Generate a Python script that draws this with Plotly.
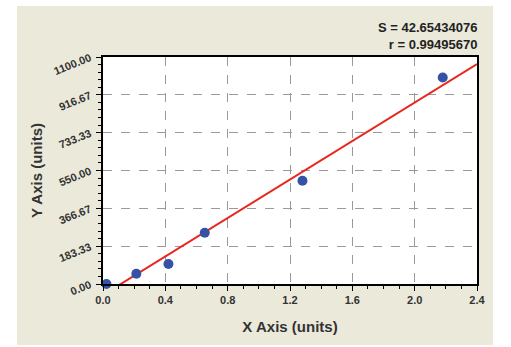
import numpy as np
import plotly.graph_objects as go

# Data
x_vals = [0.022, 0.214, 0.42, 0.653, 1.28, 2.18]
y_vals = [0, 50, 97, 248, 500, 1001]
fit_slope = 466.0
fit_intercept = -53.0
x_ticks = [0.0, 0.4, 0.8, 1.2, 1.6, 2.0, 2.4]
x_ticktext = ["0.0", "0.4", "0.8", "1.2", "1.6", "2.0", "2.4"]
y_ticks = [0, 183.33, 366.67, 550.0, 733.33, 916.67, 1100.0]
y_ticktext = ["0.00", "183.33", "366.67", "550.00", "733.33", "916.67", "1100.00"]
stats_text = "S = 42.65434076<br>r = 0.99495670"

line_x = np.linspace(0, 2.4, 50)
line_y = fit_slope * line_x + fit_intercept

W, H = 511, 347
L, R, T, B = 103, 34, 57, 63
pw, ph = W - L - R, H - T - B

def px_to_paper_x(px):
    return (px - L) / pw

def px_to_paper_y(py):
    return (H - B - py) / ph

fig = go.Figure()
fig.add_trace(go.Scatter(x=line_x, y=line_y, mode="lines",
                         line=dict(color="#e8281e", width=2), hoverinfo="skip"))
fig.add_trace(go.Scatter(x=x_vals, y=y_vals, mode="markers",
                         marker=dict(color="#3553a6", size=10), cliponaxis=False))

tickfont = dict(family="Liberation Sans, Arial", size=11, color="#333333")
titlefont = dict(family="Liberation Sans, Arial", size=15, color="#333333")

fig.update_layout(
    width=W, height=H,
    margin=dict(l=L, r=R, t=T, b=B),
    paper_bgcolor="white",
    plot_bgcolor="white",
    showlegend=False,
    shapes=[
        dict(type="rect", xref="paper", yref="paper",
             x0=px_to_paper_x(17), x1=px_to_paper_x(493),
             y0=px_to_paper_y(345), y1=px_to_paper_y(6),
             fillcolor="#ebe9da", line=dict(width=0), layer="below"),
        dict(type="rect", xref="paper", yref="paper",
             x0=0, x1=1, y0=0, y1=1,
             fillcolor="white", line=dict(width=0), layer="below"),
    ],
    annotations=[
        dict(text="<b>" + stats_text + "</b>", xref="paper", yref="paper",
             x=px_to_paper_x(479), y=px_to_paper_y(18), xanchor="right", yanchor="top",
             align="right", showarrow=False,
             font=dict(family="Liberation Sans Narrow, Arial Narrow, Liberation Sans", size=13,
                       color="#222222")),
    ],
)

fig.update_xaxes(
    range=[0, 2.4], tickvals=x_ticks, ticktext=["<b>" + t + "</b>" for t in x_ticktext],
    tickfont=tickfont, ticks="outside", ticklen=5, tickwidth=1, tickcolor="black",
    minor=dict(dtick=0.1, ticks="outside", ticklen=3, tickcolor="black", showgrid=False),
    showline=True, linecolor="black", linewidth=1.5, mirror=True,
    showgrid=True, gridcolor="#9a9a9a", griddash="dash", gridwidth=1,
    zeroline=False,
    title=dict(text="<b>X Axis (units)</b>", font=titlefont, standoff=17),
)
fig.update_yaxes(
    range=[0, 1100], tickvals=y_ticks, ticktext=["<b>" + t + "</b>" for t in y_ticktext],
    tickfont=tickfont, tickangle=-22, ticks="outside", ticklen=5, tickwidth=1, tickcolor="black",
    ticklabelstandoff=4,
    minor=dict(tickvals=[v * 1100 / 30 for v in range(31)], ticks="outside", ticklen=3,
               tickcolor="black", showgrid=False),
    showline=True, linecolor="black", linewidth=1.5, mirror=True,
    showgrid=True, gridcolor="#9a9a9a", griddash="dash", gridwidth=1,
    zeroline=False,
    title=dict(text="<b>Y Axis (units)</b>", font=titlefont, standoff=6),
)

fig.write_html("out.html")
